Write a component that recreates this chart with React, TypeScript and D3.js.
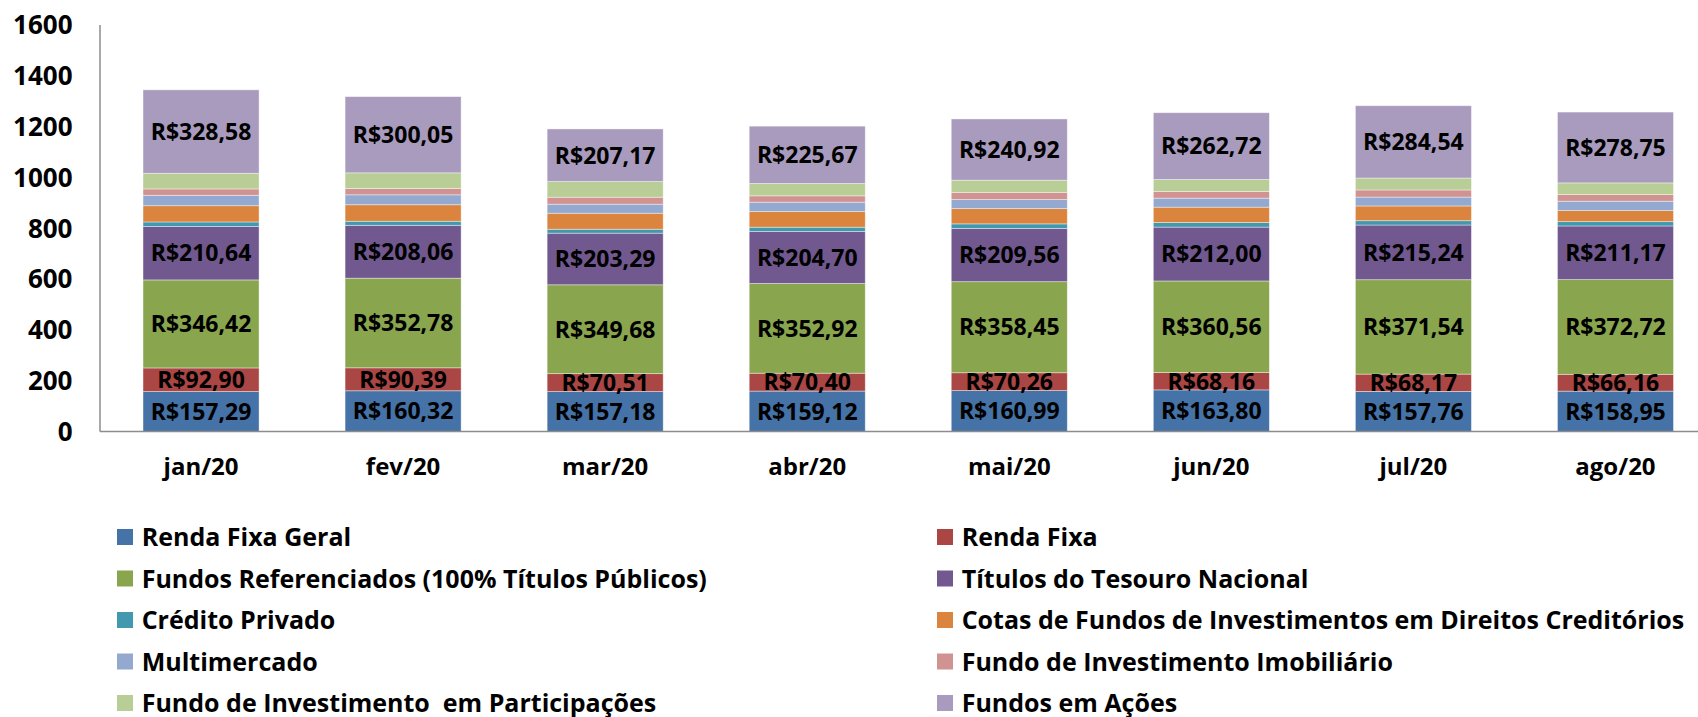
import React from "react";
import * as d3 from "d3";

const months = ["jan/20", "fev/20", "mar/20", "abr/20", "mai/20", "jun/20", "jul/20", "ago/20"];
const rendaFixaGeral = [157.29, 160.32, 157.18, 159.12, 160.99, 163.8, 157.76, 158.95];
const rendaFixa = [92.9, 90.39, 70.51, 70.4, 70.26, 68.16, 68.17, 66.16];
const fundosReferenciados = [346.42, 352.78, 349.68, 352.92, 358.45, 360.56, 371.54, 372.72];
const titulosTesouro = [210.64, 208.06, 203.29, 204.7, 209.56, 212.0, 215.24, 211.17];
const creditoPrivado = [17.5, 16, 15.5, 17, 18, 18, 17, 17];
const cotasFIDC = [64, 65, 63, 61.5, 60, 60.5, 58, 43.5];
const multimercado = [41, 39, 35.5, 37, 35.5, 35.5, 35, 37];
const fundoImobiliario = [25, 25, 27.5, 25, 27.5, 26, 28, 26];
const fundoParticipacoes = [61.5, 61.5, 61.5, 48.5, 49, 47.5, 47, 46];
const fundosAcoes = [328.58, 300.05, 207.17, 225.67, 240.92, 262.72, 284.54, 278.75];
const yTicks = [0, 200, 400, 600, 800, 1000, 1200, 1400, 1600];

const series = [
  { name: "Renda Fixa Geral", values: rendaFixaGeral, color: "#4572A7", label: true },
  { name: "Renda Fixa", values: rendaFixa, color: "#AA4643", label: true },
  { name: "Fundos Referenciados (100% Títulos Públicos)", values: fundosReferenciados, color: "#89A54E", label: true },
  { name: "Títulos do Tesouro Nacional", values: titulosTesouro, color: "#71588F", label: true },
  { name: "Crédito Privado", values: creditoPrivado, color: "#4198AF", label: false },
  { name: "Cotas de Fundos de Investimentos em Direitos Creditórios", values: cotasFIDC, color: "#DB843D", label: false },
  { name: "Multimercado", values: multimercado, color: "#93A9CF", label: false },
  { name: "Fundo de Investimento Imobiliário", values: fundoImobiliario, color: "#D19392", label: false },
  { name: "Fundo de Investimento  em Participações", values: fundoParticipacoes, color: "#B9CD96", label: false },
  { name: "Fundos em Ações", values: fundosAcoes, color: "#A99BBD", label: true },
];

const W = 1698;
const H = 717;
const FONT = "'Open Sans', 'Noto Sans', sans-serif";

const fmt = (v: number) => "R$" + v.toFixed(2).replace(".", ",");

export default function App() {
  const x = d3.scaleBand<string>().domain(months).range([100, 1716.5]).paddingInner(0.4257).paddingOuter(0.2129);
  const y = d3.scaleLinear().domain([0, 1600]).range([431.5, 25]);

  const table = months.map((m, i) => {
    const row: any = { month: m };
    series.forEach((s) => (row[s.name] = s.values[i]));
    return row;
  });
  const stacked = d3.stack<any>().keys(series.map((s) => s.name))(table);

  const legendRowH = 41.5;
  const lfs = 25;
  const bfs = 23;
  return (
    <svg width={W} height={H} style={{ position: "absolute", left: 0, top: 0, background: "#fff" }}>
      {stacked.map((layer, si) => (
        <g key={si}>
          {layer.map((d, i) => (
            <rect
              key={i}
              x={x(months[i])}
              width={x.bandwidth()}
              y={y(d[1])}
              height={y(d[0]) - y(d[1])}
              fill={series[si].color}
              stroke="#ffffff"
              strokeOpacity={0.5}
              strokeWidth={0.8}
            />
          ))}
        </g>
      ))}
      {stacked.map((layer, si) =>
        series[si].label ? (
          <g key={"l" + si}>
            {layer.map((d, i) => (
              <text
                key={i}
                x={(x(months[i]) as number) + x.bandwidth() / 2}
                y={(y(d[0]) + y(d[1])) / 2 + bfs * 0.36}
                textAnchor="middle"
                fontFamily={FONT}
                fontWeight={700}
                fontSize={bfs}
                fill="#000"
              >
                {fmt(series[si].values[i])}
              </text>
            ))}
          </g>
        ) : null
      )}
      <line x1={100} x2={100} y1={25} y2={431.5} stroke="#8c8c8c" strokeWidth={1.5} />
      <line x1={100} x2={W} y1={431.5} y2={431.5} stroke="#8c8c8c" strokeWidth={1.5} />
      {yTicks.map((t) => (
        <text
          key={t}
          x={72.5}
          y={y(t) + 26 * 0.36}
          textAnchor="end"
          fontFamily={FONT}
          fontWeight={700}
          fontSize={26}
          fill="#000"
        >
          {t}
        </text>
      ))}
      {months.map((m) => (
        <text
          key={m}
          x={(x(m) as number) + x.bandwidth() / 2}
          y={475}
          textAnchor="middle"
          fontFamily={FONT}
          fontWeight={700}
          fontSize={24}
          fill="#000"
        >
          {m}
        </text>
      ))}
      {series.map((s, i) => {
        const col = i % 2;
        const row = Math.floor(i / 2);
        const cy = 537 + row * legendRowH;
        const sx = col === 0 ? 117 : 937;
        return (
          <g key={s.name}>
            <rect x={sx} y={cy - 8} width={16} height={16} fill={s.color} />
            <text
              x={sx + 24.7}
              y={cy + lfs * 0.36}
              fontFamily={FONT}
              fontWeight={700}
              fontSize={lfs}
              fill="#000"
              style={{ whiteSpace: "pre" }}
            >
              {s.name}
            </text>
          </g>
        );
      })}
    </svg>
  );
}
